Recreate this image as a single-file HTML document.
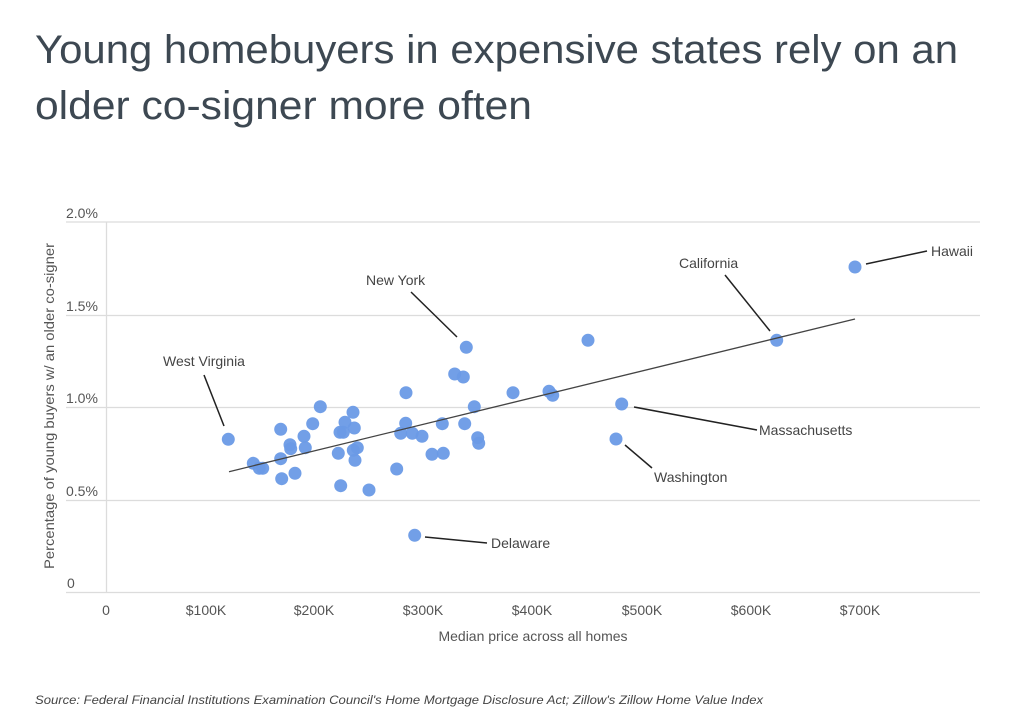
<!DOCTYPE html>
<html><head><meta charset="utf-8"><style>
body{margin:0;background:#fff;}
svg{display:block;font-family:"Liberation Sans",sans-serif;}
</style></head><body>
<svg width="1024" height="715" viewBox="0 0 1024 715">
<text x="35" y="63" font-size="40" fill="#3d4852" textLength="923" lengthAdjust="spacingAndGlyphs">Young homebuyers in expensive states rely on an</text>
<text x="35" y="119" font-size="40" fill="#3d4852" textLength="497" lengthAdjust="spacingAndGlyphs">older co-signer more often</text>
<g stroke="#dcdcdc" stroke-width="1.3">
<line x1="66" y1="222" x2="980" y2="222"/>
<line x1="66" y1="315.5" x2="980" y2="315.5"/>
<line x1="66" y1="407.5" x2="980" y2="407.5"/>
<line x1="66" y1="500.5" x2="980" y2="500.5"/>
<line x1="66" y1="592.5" x2="980" y2="592.5"/>
<line x1="106.5" y1="222" x2="106.5" y2="592.5"/>
</g>
<g font-size="14" fill="#555">
<text x="66" y="218">2.0%</text>
<text x="66" y="311">1.5%</text>
<text x="66" y="403">1.0%</text>
<text x="66" y="496">0.5%</text>
<text x="67" y="588">0</text>
</g>
<g font-size="14" fill="#555" text-anchor="middle">
<text x="106" y="615">0</text>
<text x="206" y="615">$100K</text>
<text x="314" y="615">$200K</text>
<text x="423" y="615">$300K</text>
<text x="532" y="615">$400K</text>
<text x="642" y="615">$500K</text>
<text x="751" y="615">$600K</text>
<text x="860" y="615">$700K</text>
</g>
<text x="533" y="641" font-size="14" fill="#555" text-anchor="middle">Median price across all homes</text>
<text transform="translate(54,406) rotate(-90)" font-size="14" fill="#555" text-anchor="middle" textLength="326" lengthAdjust="spacingAndGlyphs">Percentage of young buyers w/ an older co-signer</text>
<g fill="#6a9ae6" fill-opacity="0.95">
<circle cx="228.3" cy="439.3" r="6.5"/><circle cx="253.3" cy="463.3" r="6.5"/><circle cx="259.3" cy="468.3" r="6.5"/><circle cx="262.7" cy="468.3" r="6.5"/>
<circle cx="280.7" cy="429.3" r="6.5"/><circle cx="280.7" cy="458.7" r="6.5"/><circle cx="281.7" cy="478.7" r="6.5"/><circle cx="290" cy="444.7" r="6.5"/>
<circle cx="290.7" cy="448.7" r="6.5"/><circle cx="295" cy="473.3" r="6.5"/><circle cx="304" cy="436.3" r="6.5"/><circle cx="305.3" cy="447.7" r="6.5"/>
<circle cx="312.7" cy="423.7" r="6.5"/><circle cx="320.3" cy="406.7" r="6.5"/><circle cx="338.3" cy="453.3" r="6.5"/><circle cx="340" cy="432.3" r="6.5"/>
<circle cx="343.3" cy="432.3" r="6.5"/><circle cx="345" cy="422.3" r="6.5"/><circle cx="340.7" cy="485.7" r="6.5"/><circle cx="353" cy="412.3" r="6.5"/>
<circle cx="354.3" cy="428" r="6.5"/><circle cx="353.3" cy="450.3" r="6.5"/><circle cx="357.3" cy="447.7" r="6.5"/><circle cx="355" cy="460.3" r="6.5"/>
<circle cx="369" cy="490" r="6.5"/><circle cx="396.7" cy="469" r="6.5"/><circle cx="400.7" cy="433.3" r="6.5"/><circle cx="405.7" cy="423.3" r="6.5"/>
<circle cx="406" cy="392.7" r="6.5"/><circle cx="412.3" cy="433.3" r="6.5"/><circle cx="422" cy="436.3" r="6.5"/><circle cx="432" cy="454.3" r="6.5"/>
<circle cx="443.3" cy="453.3" r="6.5"/><circle cx="442.3" cy="423.7" r="6.5"/><circle cx="414.7" cy="535.3" r="6.5"/><circle cx="454.7" cy="374" r="6.5"/>
<circle cx="463.3" cy="377" r="6.5"/><circle cx="466.3" cy="347.3" r="6.5"/><circle cx="474.3" cy="406.7" r="6.5"/><circle cx="464.7" cy="423.7" r="6.5"/>
<circle cx="477.7" cy="437.7" r="6.5"/><circle cx="478.7" cy="443.3" r="6.5"/><circle cx="513" cy="392.7" r="6.5"/><circle cx="549" cy="391.3" r="6.5"/>
<circle cx="552.7" cy="395.3" r="6.5"/><circle cx="588" cy="340.3" r="6.5"/><circle cx="621.7" cy="404" r="6.5"/><circle cx="616" cy="439" r="6.5"/>
<circle cx="776.7" cy="340.3" r="6.5"/><circle cx="855" cy="267" r="6.5"/>
</g>
<line x1="229" y1="471.7" x2="855" y2="319" stroke="#444" stroke-width="1.3"/>
<g stroke="#222" stroke-width="1.5">
<line x1="204" y1="375" x2="224" y2="426"/>
<line x1="411" y1="292" x2="457" y2="337"/>
<line x1="425" y1="537" x2="487" y2="543"/>
<line x1="725" y1="275" x2="770" y2="331"/>
<line x1="866" y1="264" x2="927" y2="251"/>
<line x1="634" y1="407" x2="757" y2="430"/>
<line x1="625" y1="445" x2="652" y2="468"/>
</g>
<g font-size="14" fill="#444">
<text x="163" y="366">West Virginia</text>
<text x="366" y="285">New York</text>
<text x="491" y="548">Delaware</text>
<text x="679" y="268">California</text>
<text x="931" y="256">Hawaii</text>
<text x="759" y="435">Massachusetts</text>
<text x="654" y="482">Washington</text>
</g>
<text x="35" y="704" font-size="12" font-style="italic" fill="#444" textLength="728" lengthAdjust="spacingAndGlyphs">Source:  Federal Financial Institutions Examination Council's Home Mortgage Disclosure Act; Zillow's Zillow Home Value Index</text>
</svg>
</body></html>
